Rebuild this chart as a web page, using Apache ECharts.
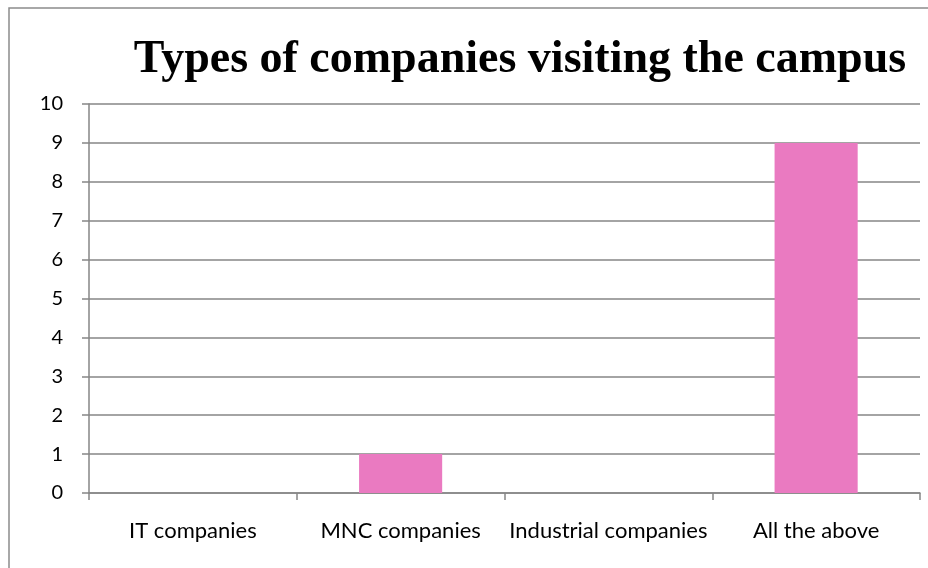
<!DOCTYPE html>
<html>
<head>
<meta charset="utf-8">
<script src="https://cdn.jsdelivr.net/npm/echarts@6/dist/echarts.min.js"></script>
<style>
  html, body { margin: 0; padding: 0; background: #ffffff; }
  #chart { width: 928px; height: 568px; }
</style>
</head>
<body>
<div id="chart"></div>
<script>
// Company types and how many of each visit the campus
const categories = ['IT companies', 'MNC companies', 'Industrial companies', 'All the above'];
const counts = [0, 1, 0, 9];
const yTicks = [0, 1, 2, 3, 4, 5, 6, 7, 8, 9, 10];
const titleText = 'Types of companies visiting the campus';

const chart = echarts.init(document.getElementById('chart'), null, { renderer: 'canvas' });

chart.setOption({
  backgroundColor: '#ffffff',
  animation: false,
  graphic: [{
    type: 'rect',
    shape: { x: 9, y: 8, width: 940, height: 580 },
    style: { fill: 'none', stroke: '#8c8c8c', lineWidth: 1.5 },
    silent: true
  }],
  title: {
    text: titleText,
    left: 515,
    top: 32,
    textAlign: 'center',
    textStyle: {
      fontFamily: '"Liberation Serif", "DejaVu Serif", serif',
      fontWeight: 'bold',
      fontSize: 46,
      color: '#000000'
    }
  },
  grid: { left: 89, right: 8, top: 104, bottom: 75, containLabel: false },
  xAxis: {
    type: 'category',
    data: categories,
    axisLine: { show: true, lineStyle: { color: '#868686', width: 1.5 } },
    axisTick: { show: true, alignWithLabel: false, length: 7, inside: false, lineStyle: { color: '#868686', width: 1.5 } },
    axisLabel: {
      margin: 27,
      fontFamily: 'Lato, "Open Sans", sans-serif',
      fontSize: 22,
      color: '#000000',
      interval: 0
    },
    splitLine: { show: false }
  },
  yAxis: {
    type: 'value',
    min: yTicks[0],
    max: yTicks[yTicks.length - 1],
    interval: 1,
    axisLine: { show: true, lineStyle: { color: '#868686', width: 1.5 } },
    axisTick: { show: true, length: 7, lineStyle: { color: '#868686', width: 1.5 } },
    axisLabel: {
      margin: 26,
      fontFamily: 'Lato, "Open Sans", sans-serif',
      fontSize: 20,
      color: '#000000'
    },
    splitLine: { show: true, lineStyle: { color: '#868686', width: 1.5 } }
  },
  series: [{
    type: 'bar',
    data: counts,
    barWidth: '40%',
    itemStyle: { color: '#EA7AC1' }
  }]
});
</script>
</body>
</html>
